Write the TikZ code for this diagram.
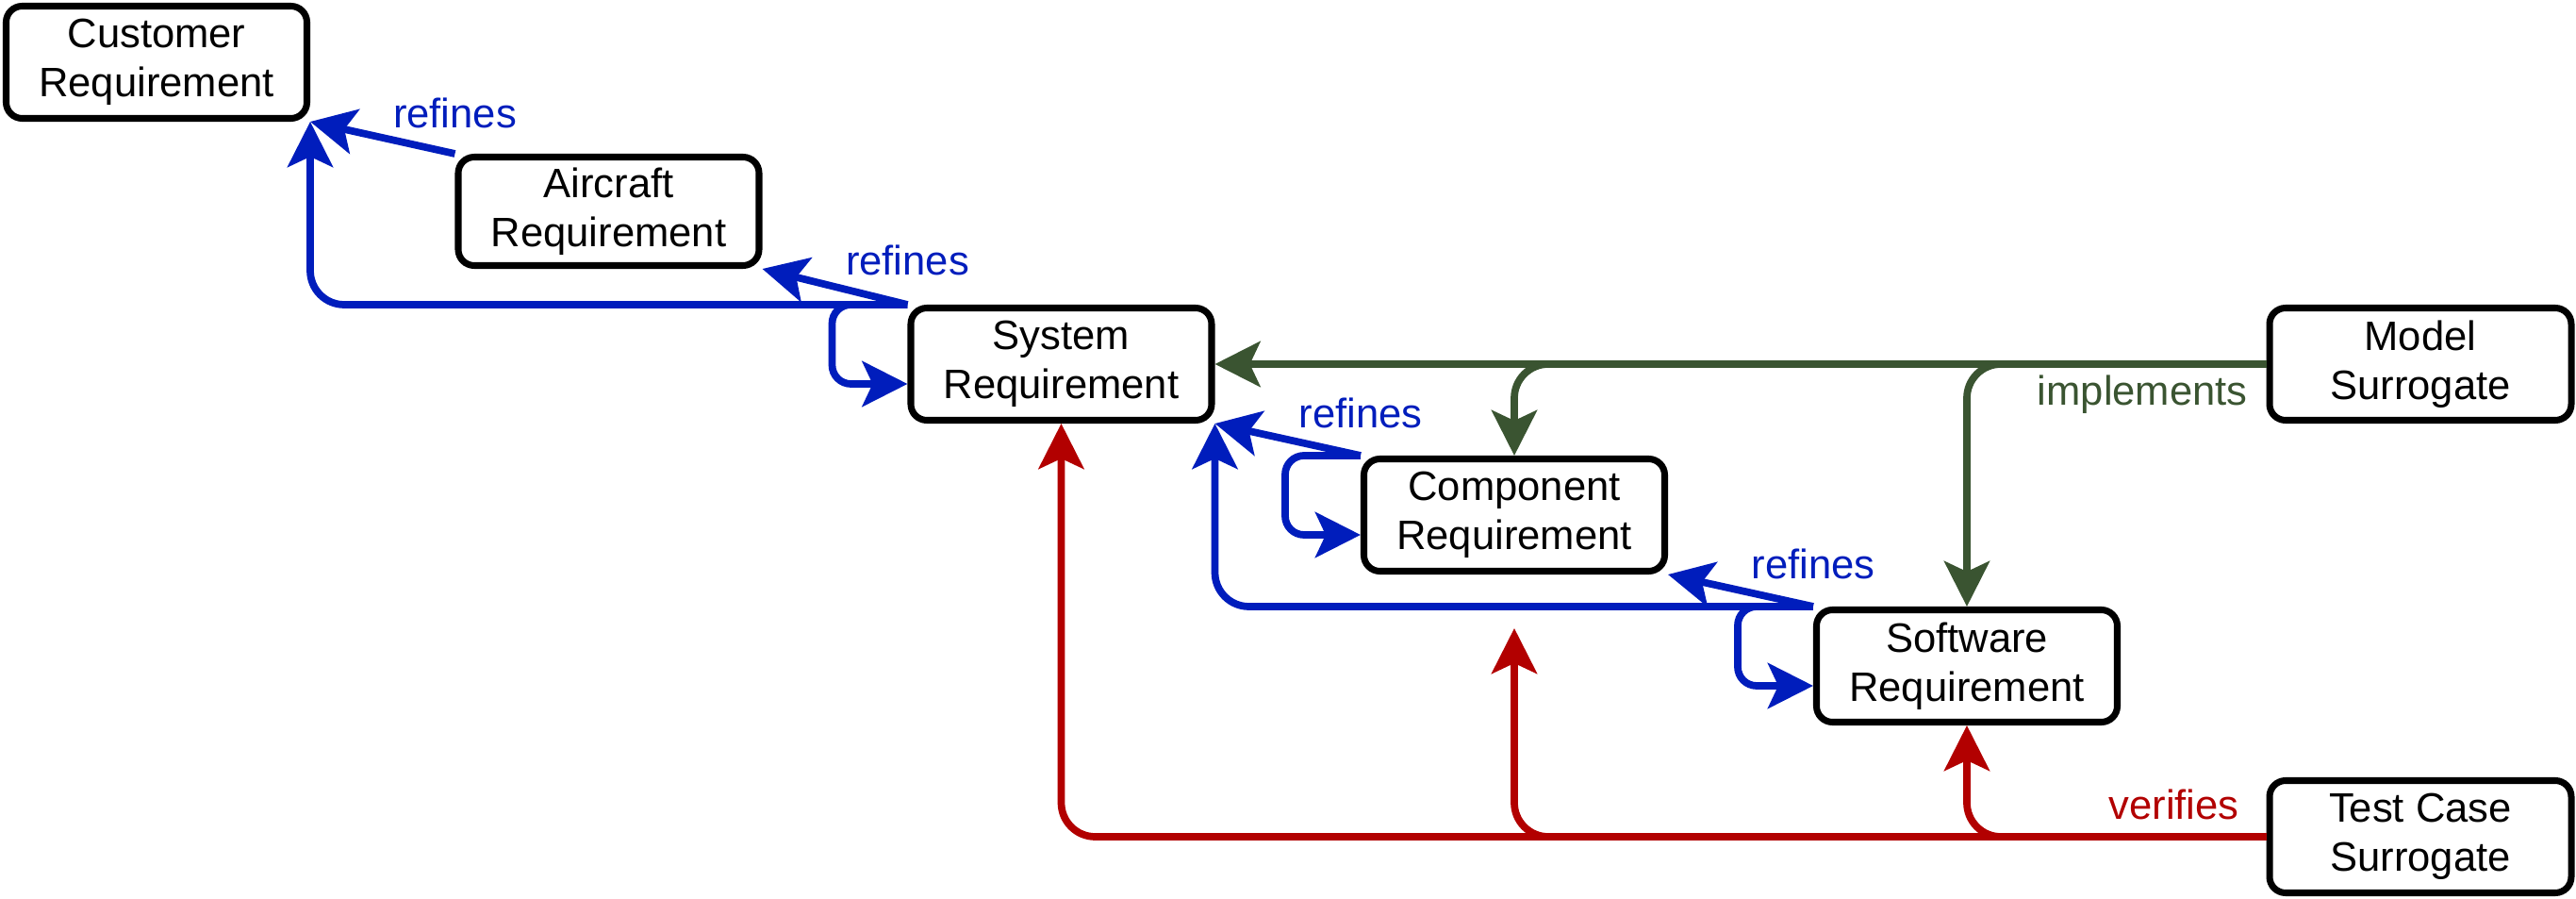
\documentclass[tikz,border=0pt]{standalone}
\usepackage{fontspec}
\setmainfont{Liberation Sans}
\usepackage{xcolor}
\usepackage{tikz}
\usetikzlibrary{arrows.meta,positioning,calc}

\definecolor{refblue}{HTML}{001DBC}
\definecolor{implgreen}{HTML}{3A5431}
\definecolor{verred}{HTML}{B20000}

\begin{document}
\begin{tikzpicture}[
                font=\fontsize{12.4}{14.9}\selectfont,
                req/.style={draw, line width=2pt, rounded corners=0.17cm, fill=white, align=center,
                            inner sep=0pt, minimum width=3.19cm, minimum height=1.19cm,
                            execute at begin node={\rule{0pt}{4.2mm}}},
                link/.style={-{Stealth[length=4.8mm, width=4.8mm, inset=1.1mm]}, line width=2.2pt, rounded corners=3.6mm},
                refedge/.style={link, color=refblue},
                loopedge/.style={link, color=refblue, rounded corners=2mm},
                impledge/.style={link, color=implgreen},
                veredge/.style={link, color=verred},
                edgelabel/.style={inner sep=0pt, pos=0}
            ]
            \useasboundingbox (0,0) rectangle (27.32,9.52);
            % requirement boxes
            \node[req] (cust) at (1.66,8.86) {Customer\\Requirement};
            \node[req, minimum height=1.15cm] (air) at (6.455,7.28) {Aircraft\\Requirement};
            \node[req] (sys) at (11.255,5.66) {System\\Requirement};
            \node[req] (comp) at (16.06,4.06) {Component\\Requirement};
            \node[req] (sw) at (20.86,2.46) {Software\\Requirement};
            \node[req, minimum width=3.2cm] (model) at (25.67,5.66) {Model\\Surrogate};
            \node[req, minimum width=3.2cm] (test) at (25.67,0.65) {Test Case\\Surrogate};
            \coordinate (vtip) at (16.06,2.86);
            % refines
            \draw[refedge] (air.north west) -- node[edgelabel, anchor=base, yshift=2.7mm] {refines} (cust.south east);
            \draw[refedge] (sys.north west) -- node[edgelabel, anchor=base, yshift=3.1mm] {refines} (air.south east);
            \draw[refedge] (sys.north west) -| (cust.south east);
            \draw[loopedge] (sys.north west) -- ++(-0.8,0) |- ([yshift=-2.1mm]sys.west);
            \draw[refedge] (comp.north west) -- node[edgelabel, anchor=base, yshift=2.9mm] {refines} (sys.south east);
            \draw[loopedge] (comp.north west) -- ++(-0.8,0) |- ([yshift=-2.1mm]comp.west);
            \draw[refedge] (sw.north west) -- node[edgelabel, anchor=base, yshift=2.9mm] {refines} (comp.south east);
            \draw[refedge] (sw.north west) -| (sys.south east);
            \draw[loopedge] (sw.north west) -- ++(-0.8,0) |- ([yshift=-2.1mm]sw.west);
            % implements
            \draw[impledge] (model.west) -- node[edgelabel, anchor=base east, xshift=-1.6mm, yshift=-4.4mm] {implements} (sys.east);
            \draw[impledge] (model.west) -| (comp.north);
            \draw[impledge] (model.west) -| (sw.north);
            % verifies
            \draw[veredge] (test.west) -| node[edgelabel, anchor=base east, xshift=-2.5mm, yshift=1.8mm] {verifies} (sys.south);
            \draw[veredge] (test.west) -| (vtip);
            \draw[veredge] (test.west) -| (sw.south);
        \end{tikzpicture}
\end{document}
